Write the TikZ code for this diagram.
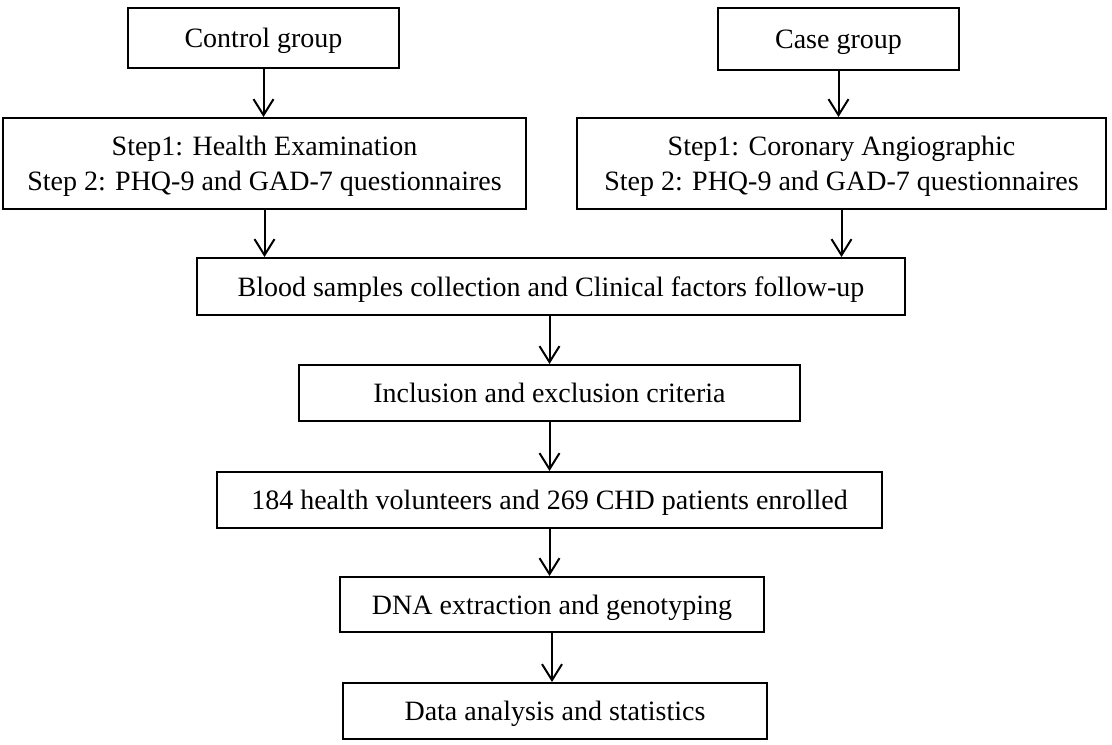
\documentclass[tikz,border=0pt]{standalone}
\usepackage{fontspec}
\setmainfont{Liberation Serif}
\usetikzlibrary{arrows.meta}

\tikzset{
  stagebox/.style={draw, line width=1pt, inner sep=0pt, align=center, text depth=0pt,
    font=\fontsize{14}{17.5}\selectfont},
  flow/.style={-{Straight Barb[length=8pt,width=10pt,line width=1pt]}, line width=1pt}
}

\begin{document}
\begin{tikzpicture}[x=0.5pt,y=-0.5pt]
      \useasboundingbox (0,0) rectangle (1112,744);

      \node[stagebox, minimum width=135.5pt, minimum height=30pt] (ctrl) at (263.5,38) {Control group};
      \node[stagebox, minimum width=120.5pt, minimum height=31pt] (case) at (838.5,39) {Case group};

      \node[stagebox, minimum width=261.5pt, minimum height=45.5pt] (stepL) at (264.5,163.5)
        {Step1: Health Examination\\Step 2: PHQ-9 and GAD-7 questionnaires};
      \node[stagebox, minimum width=264.5pt, minimum height=45.5pt] (stepR) at (841.5,163.5)
        {Step1: Coronary Angiographic\\Step 2: PHQ-9 and GAD-7 questionnaires};

      \node[stagebox, minimum width=354pt, minimum height=28.5pt] (blood) at (551,286.5)
        {Blood samples collection and Clinical factors follow-up};
      \node[stagebox, minimum width=250.5pt, minimum height=28pt] (crit) at (549.5,393)
        {Inclusion and exclusion criteria};
      \node[stagebox, minimum width=332.5pt, minimum height=28pt] (enrol) at (549.5,500)
        {184 health volunteers and 269 CHD patients enrolled};
      \node[stagebox, minimum width=212pt, minimum height=27.5pt] (dna) at (552,604.5)
        {DNA extraction and genotyping};
      \node[stagebox, minimum width=212pt, minimum height=28pt] (stats) at (555,711)
        {Data analysis and statistics};

      \draw[flow] (ctrl.south) -- (stepL.north -| ctrl.south);
      \draw[flow] (case.south) -- (stepR.north -| case.south);
      \draw[flow] (stepL.south) -- (blood.north -| stepL.south);
      \draw[flow] (stepR.south) -- (blood.north -| stepR.south);
      \draw[flow] (blood.south -| crit.north) -- (crit.north);
      \draw[flow] (crit.south) -- (enrol.north);
      \draw[flow] (enrol.south) -- (dna.north -| enrol.south);
      \draw[flow] (dna.south) -- (stats.north -| dna.south);
\end{tikzpicture}
\end{document}
